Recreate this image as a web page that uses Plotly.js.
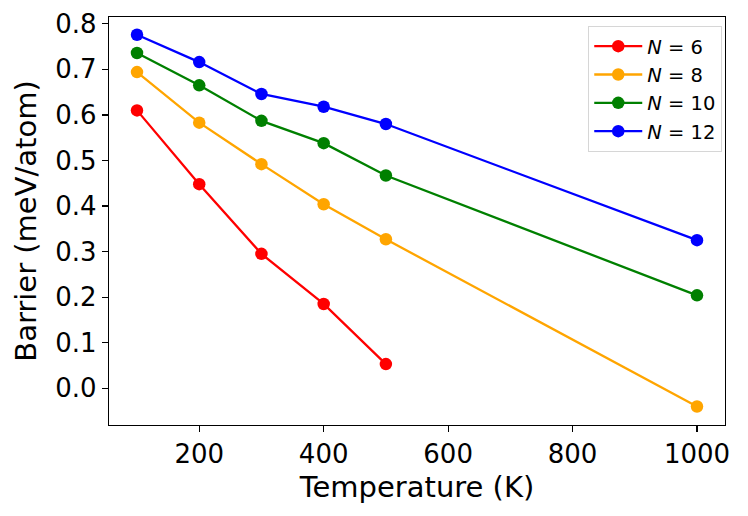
<!DOCTYPE html>
<html>
<head>
<meta charset="utf-8">
<script src="https://cdn.plot.ly/plotly-3.0.1.min.js"></script>
<style>html,body{margin:0;padding:0;background:#fff;}#chart{width:748px;height:516px;}</style>
</head>
<body>
<div id="chart"></div>
<script>
const temperatures = [100, 200, 300, 400, 500, 1000];
const seriesNames = ['<i>N</i> = 6', '<i>N</i> = 8', '<i>N</i> = 10', '<i>N</i> = 12'];
const seriesColors = ['red', 'orange', 'green', 'blue'];
const barrierN6 = [0.610, 0.448, 0.295, 0.185, 0.053];
const barrierN8 = [0.694, 0.583, 0.492, 0.404, 0.327, -0.040];
const barrierN10 = [0.736, 0.665, 0.587, 0.538, 0.467, 0.204];
const barrierN12 = [0.776, 0.716, 0.646, 0.618, 0.580, 0.325];
const xTicks = [200, 400, 600, 800, 1000];
const yTicks = [0.0, 0.1, 0.2, 0.3, 0.4, 0.5, 0.6, 0.7, 0.8];

const allSeries = [barrierN6, barrierN8, barrierN10, barrierN12];
const traces = allSeries.map((vals, i) => ({
  x: temperatures.slice(0, vals.length),
  y: vals,
  type: 'scatter',
  mode: 'lines+markers',
  name: seriesNames[i],
  line: {color: seriesColors[i], width: 2.3},
  marker: {color: seriesColors[i], size: 12.5}
}));

const font = 'DejaVu Sans, sans-serif';
const layout = {
  width: 748, height: 516,
  margin: {l: 109, r: 23, t: 17, b: 91},
  paper_bgcolor: '#fff', plot_bgcolor: '#fff',
  font: {family: font, color: '#000'},
  xaxis: {
    range: [55, 1045],
    tickvals: xTicks,
    ticktext: xTicks.map(String),
    ticks: 'outside', ticklen: 6, tickwidth: 1.2, tickcolor: '#000',
    showline: true, linecolor: '#000', linewidth: 1.2, mirror: true,
    showgrid: false, zeroline: false,
    tickfont: {size: 26, family: font},
    title: {text: 'Temperature (K)', font: {size: 29, family: font}, standoff: 8}
  },
  yaxis: {
    range: [-0.0807, 0.815],
    tickvals: yTicks,
    ticktext: yTicks.map(v => v.toFixed(1)),
    ticks: 'outside', ticklen: 6, tickwidth: 1.2, tickcolor: '#000',
    showline: true, linecolor: '#000', linewidth: 1.2, mirror: true,
    showgrid: false, zeroline: false,
    tickfont: {size: 26, family: font},
    title: {text: 'Barrier (meV/atom)', font: {size: 29, family: font}, standoff: 10}
  },
  showlegend: true,
  legend: {
    x: 0.778, y: 0.978, xanchor: 'left', yanchor: 'top',
    bgcolor: 'rgba(255,255,255,0.8)', bordercolor: '#d6d6d6', borderwidth: 1,
    font: {size: 19.5, family: font},
    itemwidth: 48,
    tracegroupgap: 0
  }
};

Plotly.newPlot('chart', traces, layout, {displayModeBar: false, staticPlot: true});
</script>
</body>
</html>
